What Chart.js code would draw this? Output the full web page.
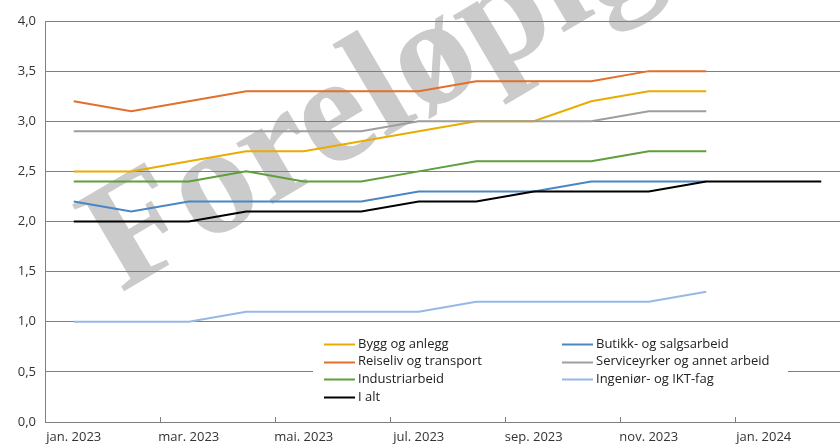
<!DOCTYPE html>
<html>
<head>
<meta charset="utf-8">
<script src="https://cdn.jsdelivr.net/npm/chart.js@4.4.1/dist/chart.umd.min.js"></script>
<style>
    body { margin: 0; background: #fff; overflow: hidden; }
    #wrap { width: 840px; height: 445px; overflow: hidden; }
    canvas { display: block; }
</style>
</head>
<body>
<div id="wrap"><canvas id="graphC" width="855" height="445"></canvas></div>
<script>
// months jan 2023 - feb 2024, only every second one gets a label
var months = ["jan. 2023", "feb. 2023", "mar. 2023", "apr. 2023", "mai. 2023", "jun. 2023",
              "jul. 2023", "aug. 2023", "sep. 2023", "okt. 2023", "nov. 2023", "des. 2023",
              "jan. 2024", "feb. 2024"];
var yTicks = [0, 0.5, 1, 1.5, 2, 2.5, 3, 3.5, 4];

var bygg      = [2.5, 2.5, 2.6, 2.7, 2.7, 2.8, 2.9, 3.0, 3.0, 3.2, 3.3, 3.3];
var reiseliv  = [3.2, 3.1, 3.2, 3.3, 3.3, 3.3, 3.3, 3.4, 3.4, 3.4, 3.5, 3.5];
var industri  = [2.4, 2.4, 2.4, 2.5, 2.4, 2.4, 2.5, 2.6, 2.6, 2.6, 2.7, 2.7];
var butikk    = [2.2, 2.1, 2.2, 2.2, 2.2, 2.2, 2.3, 2.3, 2.3, 2.4, 2.4, 2.4];
var service   = [2.9, 2.9, 2.9, 2.9, 2.9, 2.9, 3.0, 3.0, 3.0, 3.0, 3.1, 3.1];
var ingenior  = [1.0, 1.0, 1.0, 1.1, 1.1, 1.1, 1.1, 1.2, 1.2, 1.2, 1.2, 1.3];
var iAlt      = [2.0, 2.0, 2.0, 2.1, 2.1, 2.1, 2.2, 2.2, 2.3, 2.3, 2.3, 2.4, 2.4, 2.4];

var series = {
    bygg:     { label: "Bygg og anlegg",              color: "#e8ad00", data: bygg },
    reiseliv: { label: "Reiseliv og transport",       color: "#e0702c", data: reiseliv },
    industri: { label: "Industriarbeid",              color: "#5f9f3b", data: industri },
    iAlt:     { label: "I alt",                       color: "#000000", data: iAlt },
    butikk:   { label: "Butikk- og salgsarbeid",      color: "#4a86c3", data: butikk },
    service:  { label: "Serviceyrker og annet arbeid",color: "#9e9e9e", data: service },
    ingenior: { label: "Ingeniør- og IKT-fag",        color: "#95b9e4", data: ingenior }
};

// first in list is drawn on top
var drawOrder = ["iAlt", "service", "butikk", "bygg", "reiseliv", "industri", "ingenior"];
// legend columns
var legendCols = [["bygg", "reiseliv", "industri", "iAlt"], ["butikk", "service", "ingenior"]];

var textColor = "#333333";
var fontFamily = "'Open Sans', 'Noto Sans', sans-serif";

var datasets = drawOrder.map(function (key) {
    var s = series[key];
    return {
        label: s.label,
        data: s.data,
        borderColor: s.color,
        backgroundColor: s.color,
        borderWidth: 2,
        pointRadius: 0,
        tension: 0,
        fill: false
    };
});

// grey "Foreløpig" stamp behind everything
var watermark = {
    id: "watermark",
    beforeDraw: function (chart) {
        var ctx = chart.ctx;
        ctx.save();
        ctx.translate(121, 293);
        ctx.rotate(-30.5 * Math.PI / 180);
        ctx.fillStyle = "#cbcbcb";
        ctx.font = "bold 154px 'Liberation Serif', 'DejaVu Serif', serif";
        ctx.textBaseline = "alphabetic";
        ctx.fillText("Foreløpig", 0, 0);
        ctx.restore();
    }
};

// short inward tick marks before each labelled month
var xTickMarks = {
    id: "xTickMarks",
    afterDatasetsDraw: function (chart) {
        var ctx = chart.ctx;
        var x = chart.scales.x;
        var bottom = chart.chartArea.bottom;
        ctx.save();
        ctx.strokeStyle = "#7f7f7f";
        ctx.lineWidth = 1;
        for (var i = 2; i < months.length; i += 2) {
            var px = Math.round((x.getPixelForValue(i - 1) + x.getPixelForValue(i)) / 2) + 0.5;
            ctx.beginPath();
            ctx.moveTo(px, bottom - 5);
            ctx.lineTo(px, bottom);
            ctx.stroke();
        }
        ctx.restore();
    }
};

// legend in two columns, boxed in white over the grid
var legendBox = {
    id: "legendBox",
    afterDatasetsDraw: function (chart) {
        var ctx = chart.ctx;
        ctx.save();
        ctx.fillStyle = "#ffffff";
        ctx.fillRect(313, 330, 475, 80);
        ctx.font = "13px " + fontFamily;
        ctx.textBaseline = "middle";
        ctx.lineWidth = 2;
        var colX = [324, 562];
        legendCols.forEach(function (col, c) {
            col.forEach(function (key, r) {
                var y = 344 + r * 17.6;
                ctx.strokeStyle = series[key].color;
                ctx.beginPath();
                ctx.moveTo(colX[c], Math.round(y) + 0.5);
                ctx.lineTo(colX[c] + 31, Math.round(y) + 0.5);
                ctx.stroke();
                ctx.fillStyle = "#222222";
                ctx.fillText(series[key].label, colX[c] + 34, y);
            });
        });
        ctx.restore();
    }
};

var ctx = document.getElementById("graphC").getContext("2d");
var myChart = new Chart(ctx, {
    type: "line",
    data: {
        labels: months,
        datasets: datasets
    },
    options: {
        responsive: false,
        animation: false,
        layout: { padding: { top: 21, right: 5, left: 0, bottom: 0 } },
        plugins: {
            legend: { display: false },
            tooltip: { enabled: false }
        },
        scales: {
            x: {
                offset: true,
                grid: { display: false, drawTicks: false },
                border: { display: true, color: "#7f7f7f", width: 1 },
                ticks: {
                    autoSkip: false,
                    maxRotation: 0,
                    padding: 7,
                    color: textColor,
                    font: { family: fontFamily, size: 13 },
                    callback: function (value, index) {
                        return index % 2 === 0 ? months[index] : "";
                    }
                },
                afterFit: function (scale) { scale.height = 23; }
            },
            y: {
                min: yTicks[0],
                max: yTicks[yTicks.length - 1],
                afterBuildTicks: function (scale) {
                    scale.ticks = yTicks.map(function (v) { return { value: v }; });
                },
                grid: { color: "#7f7f7f", lineWidth: 1, drawTicks: false },
                border: { display: true, color: "#7f7f7f", width: 1 },
                ticks: {
                    padding: 9,
                    color: textColor,
                    font: { family: fontFamily, size: 13 },
                    callback: function (value) {
                        return value.toFixed(1).replace(".", ",");
                    }
                },
                afterFit: function (scale) { scale.width = 45; }
            }
        }
    },
    plugins: [watermark, xTickMarks, legendBox]
});
</script>
</body>
</html>
